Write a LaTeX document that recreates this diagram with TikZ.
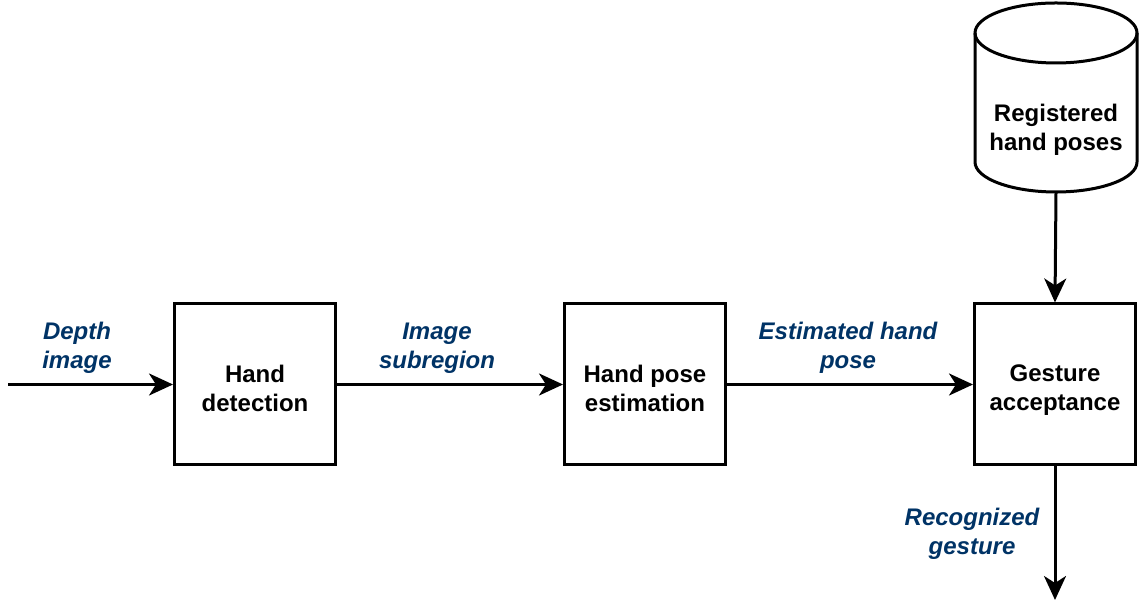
\documentclass[tikz,border=0pt]{standalone}
\usepackage{fontspec}
\setmainfont{Liberation Sans}
\usetikzlibrary{arrows.meta}
\definecolor{labelblue}{RGB}{0,51,102}
\begin{document}
\begin{tikzpicture}[x=1pt,y=1pt,
  stage/.style={draw, line width=3pt, minimum width=161pt, minimum height=161pt,
    inner sep=0pt},
  stagetext/.style={align=center, inner sep=0pt,
    font=\fontsize{24}{29}\selectfont\bfseries},
  flowlabel/.style={align=center, text=labelblue, inner sep=0pt,
    font=\fontsize{24}{29}\selectfont\bfseries\itshape},
  flow/.style={line width=3pt, -{Stealth[length=24pt, width=22pt, inset=7pt]}}]
\useasboundingbox (0,0) rectangle (1142,601);

% processing stages
\node[stage] (detect) at (255,216.5) {};
\node[stage] (pose) at (645,216.5) {};
\node[stage] (accept) at (1055,216.5) {};
\node[stagetext] (detectt) at (255,213) {Hand\\detection};
\node[stagetext] (poset) at (645,213) {Hand pose\\estimation};
\node[stagetext] (acceptt) at (1055,210.5) {Gesture\\acceptance};

% database of registered poses
\draw[line width=3pt, fill=white] (975,568) -- (975,439)
  arc[start angle=180, end angle=360, x radius=81, y radius=30] -- (1137,568);
\draw[line width=3pt] (1056,568) ellipse[x radius=81, y radius=30];
\node[stagetext] (db) at (1056,471) {Registered\\hand poses};
\coordinate (dbbottom) at (1056,409);

% open ends
\coordinate (input) at (8,216.5);
\coordinate (output) at (1055,1);

% connectors
\draw[flow] (input) -- (detect.west);
\draw[flow] (detect.east) -- (pose.west);
\draw[flow] (pose.east) -- (accept.west);
\draw[flow] (dbbottom) -- (accept.north);
\draw[flow] (accept.south) -- (output);

% connector labels
\node[flowlabel] (lin) at (77,253) {Depth\\image};
\node[flowlabel] (lsub) at (437,253) {Image\\subregion};
\node[flowlabel] (lest) at (848,253) {Estimated hand\\pose};
\node[flowlabel] (lout) at (972,67) {Recognized\\gesture};
\end{tikzpicture}
\end{document}
